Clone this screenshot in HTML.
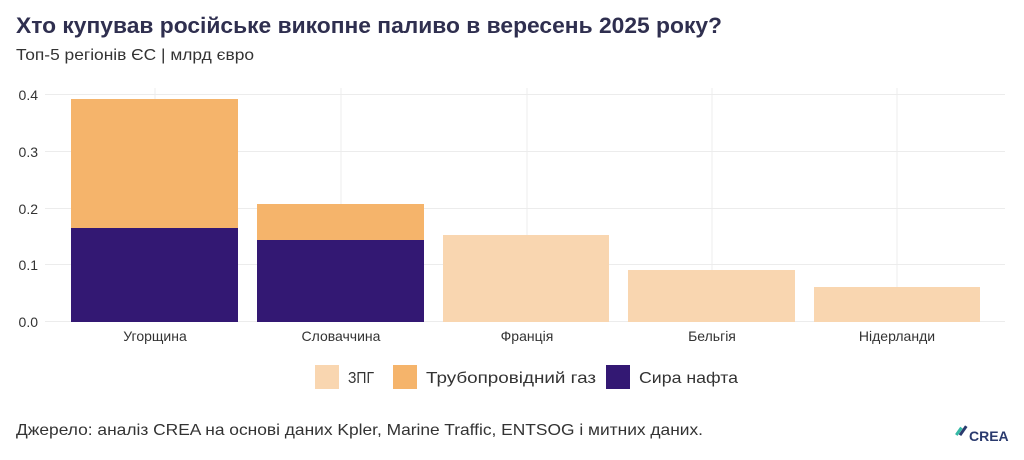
<!DOCTYPE html>
<html><head><meta charset="utf-8"><style>
body{margin:0;background:#fff;font-family:"Liberation Sans",sans-serif;}
</style></head><body>
<svg width="1024" height="455" xmlns="http://www.w3.org/2000/svg" font-family="Liberation Sans, sans-serif">
<rect width="1024" height="455" fill="#fff"/>
<text x="16" y="33" font-size="22" font-weight="bold" fill="#2f2f4f" textLength="706" lengthAdjust="spacingAndGlyphs">Хто купував російське викопне паливо в вересень 2025 року?</text>
<text x="16" y="60" font-size="16" fill="#333" textLength="238" lengthAdjust="spacingAndGlyphs">Топ-5 регіонів ЄС | млрд євро</text>
<g stroke="#ececec" stroke-width="1">
<line x1="45" x2="1005" y1="94.5" y2="94.5"/>
<line x1="45" x2="1005" y1="151.5" y2="151.5"/>
<line x1="45" x2="1005" y1="208.5" y2="208.5"/>
<line x1="45" x2="1005" y1="264.5" y2="264.5"/>
<line x1="45" x2="1005" y1="321.5" y2="321.5"/>
<line x1="155" x2="155" y1="88" y2="322"/>
<line x1="341" x2="341" y1="88" y2="322"/>
<line x1="527" x2="527" y1="88" y2="322"/>
<line x1="712" x2="712" y1="88" y2="322"/>
<line x1="897" x2="897" y1="88" y2="322"/>
</g>
<g font-size="14" fill="#333" text-anchor="end">
<text x="38" y="100">0.4</text><text x="38" y="157">0.3</text><text x="38" y="214">0.2</text><text x="38" y="270">0.1</text><text x="38" y="327">0.0</text>
</g>
<rect x="71" y="99" width="167" height="129" fill="#f5b46b"/>
<rect x="71" y="228" width="167" height="94" fill="#331873"/>
<rect x="257" y="204" width="167" height="36" fill="#f5b46b"/>
<rect x="257" y="240" width="167" height="82" fill="#331873"/>
<rect x="443" y="235" width="166" height="87" fill="#f9d6b0"/>
<rect x="628" y="270" width="167" height="52" fill="#f9d6b0"/>
<rect x="814" y="287" width="166" height="35" fill="#f9d6b0"/>
<g font-size="14" fill="#333" text-anchor="middle">
<text x="155" y="341">Угорщина</text><text x="341" y="341">Словаччина</text><text x="527" y="341">Франція</text><text x="712" y="341">Бельгія</text><text x="897" y="341">Нідерланди</text>
</g>
<rect x="315" y="365" width="24" height="24" fill="#f9d6b0"/>
<text x="348" y="383" font-size="16" fill="#333" textLength="26" lengthAdjust="spacingAndGlyphs">ЗПГ</text>
<rect x="393" y="365" width="24" height="24" fill="#f5b46b"/>
<text x="426" y="383" font-size="16" fill="#333" textLength="170" lengthAdjust="spacingAndGlyphs">Трубопровідний газ</text>
<rect x="606" y="365" width="24" height="24" fill="#331873"/>
<text x="639" y="383" font-size="16" fill="#333" textLength="99" lengthAdjust="spacingAndGlyphs">Сира нафта</text>
<text x="16" y="435" font-size="16" fill="#333" textLength="687" lengthAdjust="spacingAndGlyphs">Джерело: аналіз CREA на основі даних Kpler, Marine Traffic, ENTSOG і митних даних.</text>
<g transform="translate(957,430)">
<rect x="0" y="-3" width="3" height="9" fill="#35b9a5" transform="rotate(35 2 2)"/>
<rect x="5" y="-5" width="3" height="11" fill="#2a3a6e" transform="rotate(35 6 0)"/>
</g>
<text x="969" y="441" font-size="14" font-weight="bold" fill="#2a3a6e">CREA</text>
</svg>
</body></html>
